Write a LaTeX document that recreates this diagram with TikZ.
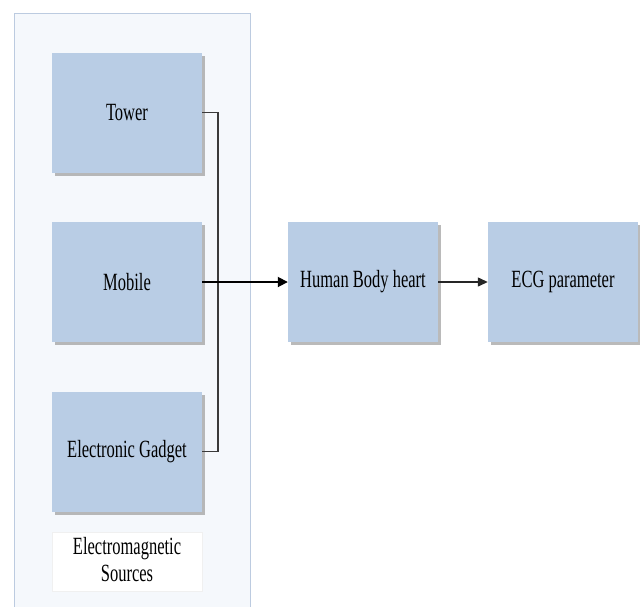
\documentclass[tikz,border=0pt]{standalone}
\usepackage{fontspec}
\setmainfont{Liberation Serif}
\usetikzlibrary{shadows,arrows.meta}
\definecolor{boxblue}{HTML}{B9CDE5}
\definecolor{panelfill}{HTML}{F5F8FC}
\definecolor{panelline}{HTML}{BCCBE0}
\definecolor{lineg}{HTML}{3A3A3A}
\newcommand{\tx}[1]{\scalebox{1}[1.5]{#1}}
\tikzset{
  blockbox/.style={fill=boxblue, minimum width=150pt, minimum height=120pt, inner sep=0pt,
    font=\fontsize{16.5}{20}\selectfont,
    drop shadow={shadow xshift=2.5pt, shadow yshift=-3pt, fill=black!45, opacity=0.6}},
  labelbox/.style={fill=white, draw=black!6, minimum width=150pt, minimum height=59pt, inner sep=0pt,
    font=\fontsize{16.5}{20}\selectfont},
  wire/.style={draw=lineg, line width=1.3pt},
  mainarrow/.style={draw=black, line width=1.8pt, -{Triangle[length=10pt,width=10pt]}},
  smallarrow/.style={draw=black!85, line width=1.3pt, -{Triangle[length=10pt,width=9pt]}}
}
\begin{document}
\begin{tikzpicture}[x=1pt,y=-1pt]
\useasboundingbox (0,0) rectangle (640,606);
\fill[white] (0,0) rectangle (640,606);
\draw[panelline, fill=panelfill, line width=1pt] (14.5,620) -- (14.5,13) -- (250.5,13) -- (250.5,620);
\node[blockbox] (tower) at (127,112.5) {\tx{Tower}};
\node[blockbox] (mobile) at (127,282) {\tx{Mobile}};
\node[blockbox] (gadget) at (127,451.5) {\tx{Electronic Gadget}};
\node[labelbox] (label) at (127,561.5) {\tx{\begin{tabular}{@{}c@{}}Electromagnetic\\[-2pt]Sources\end{tabular}}};
\node[blockbox] (heart) at (363,282) {\tx{Human Body heart}};
\node[blockbox] (ecg) at (563,282) {\tx{ECG parameter}};
\coordinate (bartop) at (218,112.5);
\coordinate (barbot) at (218,451.5);
\draw[wire] (tower.east) -- (bartop) -- (barbot) -- (gadget.east);
\draw[mainarrow] (mobile.east) -- (heart.west);
\draw[smallarrow] (heart.east) -- (ecg.west);
\end{tikzpicture}
\end{document}
